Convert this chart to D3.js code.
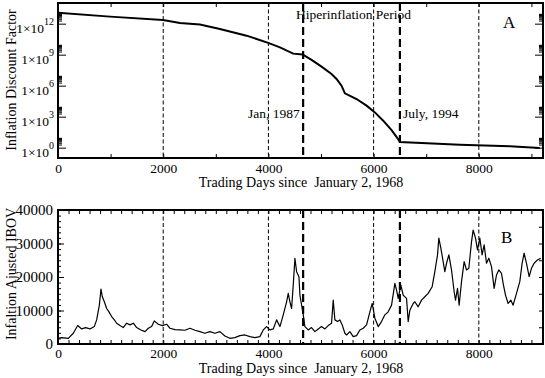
<!DOCTYPE html>
<html>
<head>
<meta charset="utf-8">
<script src="https://cdn.jsdelivr.net/npm/d3@7"></script>
<style>
  body { margin: 0; background: #fff; }
  svg { display: block; font-family: "Liberation Serif", "DejaVu Serif", serif; }
  .axis path { display: none; }
  .axis line { stroke: #000; stroke-width: 1; }
  .axis text { fill: #000; font-family: "Liberation Serif", serif; }
</style>
</head>
<body>
<svg id="chart" width="545" height="378"></svg>
<script>
// panel A: inflation discount factor (log scale)
const factorDays = [0, 988, 1995, 2318, 2698, 3078, 3586, 3996, 4219, 4471, 4649, 4820, 5010, 5200, 5295, 5390, 5454, 5676, 5866, 6024, 6182, 6341, 6470, 6499, 7639, 8589, 9159];
const factorValues = [1.17e13, 4.8e12, 2.3e12, 1.17e12, 8.1e11, 3.1e11, 6.9e10, 1.4e10, 5.1e9, 1.26e9, 1.05e9, 3.1e8, 6.9e7, 1.35e7, 4.5e6, 1.0e6, 1.8e5, 5.1e4, 1.17e4, 2.6e3, 410, 50, 6.3, 3.5, 1.95, 1.35, 0.93];

// panel B: inflation adjusted IBOV
const ibovDays = [0, 70, 196, 291, 374, 450, 526, 608, 690, 735, 786, 817, 843, 881, 925, 969, 1020, 1071, 1115, 1178, 1241, 1305, 1368, 1432, 1495, 1577, 1653, 1717, 1780, 1830, 1906, 1983, 2065, 2128, 2223, 2318, 2413, 2508, 2603, 2698, 2793, 2888, 2983, 3078, 3173, 3268, 3363, 3458, 3553, 3648, 3743, 3838, 3902, 3965, 4029, 4092, 4156, 4219, 4282, 4346, 4377, 4409, 4441, 4472, 4504, 4536, 4580, 4599, 4631, 4662, 4694, 4757, 4820, 4884, 4947, 5010, 5074, 5137, 5200, 5232, 5264, 5314, 5359, 5403, 5454, 5486, 5549, 5612, 5676, 5739, 5802, 5866, 5929, 5973, 6024, 6087, 6150, 6214, 6277, 6341, 6404, 6436, 6467, 6518, 6562, 6626, 6657, 6689, 6752, 6784, 6847, 6911, 6974, 7037, 7113, 7164, 7215, 7240, 7278, 7322, 7354, 7386, 7430, 7481, 7531, 7557, 7595, 7626, 7671, 7721, 7766, 7810, 7861, 7892, 7937, 7975, 8019, 8063, 8101, 8146, 8190, 8241, 8291, 8336, 8380, 8431, 8462, 8507, 8557, 8608, 8652, 8716, 8779, 8823, 8861, 8906, 8957, 9001, 9051, 9115, 9178];
const ibovValues = [1700, 1900, 1700, 3200, 5500, 4500, 4900, 4500, 5200, 7200, 11600, 16400, 14100, 12600, 10600, 9600, 8200, 7200, 6200, 5500, 4900, 6200, 5700, 6200, 4900, 4200, 3700, 4700, 5200, 6900, 5900, 5500, 5900, 4700, 4300, 4200, 4100, 4700, 4100, 3700, 3200, 3700, 3200, 3700, 2400, 1700, 1900, 2500, 2700, 2200, 1900, 2200, 4200, 5200, 4200, 4500, 7200, 5200, 8700, 12600, 15100, 12600, 10600, 17600, 25600, 21600, 20100, 14600, 11600, 8700, 5200, 4200, 4900, 3700, 4500, 5200, 4500, 5500, 6200, 13100, 7200, 6700, 7200, 5700, 3200, 2700, 3700, 2200, 2500, 4200, 4700, 5700, 9600, 12100, 7700, 5200, 6700, 8700, 9600, 11600, 18100, 16100, 13600, 17600, 14600, 13600, 6700, 10100, 12100, 12600, 11100, 13100, 14100, 15100, 17100, 21600, 26600, 31600, 28600, 24600, 21600, 24100, 26600, 22100, 15600, 13100, 16600, 11600, 18600, 24600, 22100, 22600, 30500, 34000, 31600, 28100, 31600, 26600, 29600, 24100, 25600, 23100, 16600, 20600, 22100, 21100, 18100, 14600, 12100, 13100, 11600, 15100, 18600, 24100, 27100, 24100, 20100, 22600, 24100, 25100, 25600];

// tick labels and reference lines
const xLabelTicks = [0, 2000, 4000, 6000, 8000];
const factorMajorTicks = [1, 1e3, 1e6, 1e9, 1e12];
const ibovMajorTicks = [0, 10000, 20000, 30000, 40000];
const yearLines = [2000, 4000, 6000, 8000];
const periodLines = [4660, 6500];

const svg = d3.select("#chart");
const fontSize = 13.5;

const panelA = {left: 58, right: 543, top: 3, bottom: 158};
const panelB = {left: 58, right: 543, top: 210, bottom: 344};

const x = d3.scaleLinear().domain([0, 9220]).range([panelA.left, panelA.right]);
const yA = d3.scaleLog().domain([0.1, 1e14]).range([panelA.bottom, panelA.top]);
const yB = d3.scaleLinear().domain([0, 40000]).range([panelB.bottom, panelB.top]);

/** draws vertical dashed reference lines inside a panel */
const drawRefLines = (p) => {
  svg.append("g").selectAll("line")
    .data(yearLines).enter().append("line")
    .attr("x1", d => x(d)).attr("x2", d => x(d))
    .attr("y1", p.top).attr("y2", p.bottom)
    .attr("stroke", "#000").attr("stroke-width", 1)
    .attr("stroke-dasharray", "4,2.5");
  svg.append("g").selectAll("line")
    .data(periodLines).enter().append("line")
    .attr("x1", d => x(d)).attr("x2", d => x(d))
    .attr("y1", p.top).attr("y2", p.bottom)
    .attr("stroke", "#000").attr("stroke-width", 2.2)
    .attr("stroke-dasharray", "8,4");
};

/** x axes (bottom with labels, top ticks only) */
const drawXAxes = (p, step, pad) => {
  const ticks = d3.range(0, 9201, step);
  svg.append("g").attr("class", "axis")
    .attr("transform", "translate(0," + p.bottom + ")")
    .call(d3.axisBottom(x).tickValues(ticks).tickSizeInner(-4).tickSizeOuter(0).tickPadding(pad)
      .tickFormat(d => xLabelTicks.includes(d) ? d : ""))
    .selectAll("text")
    .attr("font-size", fontSize)
    .filter(d => !xLabelTicks.includes(d)).remove();
  svg.append("g").attr("class", "axis")
    .attr("transform", "translate(0," + p.top + ")")
    .call(d3.axisTop(x).tickValues(ticks).tickSizeInner(-4).tickSizeOuter(0).tickFormat(""))
    .selectAll("text").remove();
};

// ---- panel A ----
drawRefLines(panelA);

const lineA = d3.line()
  .x((d, i) => x(factorDays[i]))
  .y(d => yA(d));
svg.append("path")
  .datum(factorValues)
  .attr("d", lineA)
  .attr("fill", "none")
  .attr("stroke", "#000")
  .attr("stroke-width", 2);

drawXAxes(panelA, 1000, 5);

const factorMinor = [];
factorMajorTicks.forEach(m => { for (let k = 2; k <= 9; k++) factorMinor.push(m * k); });

svg.append("g").attr("class", "axis")
  .attr("transform", "translate(" + panelA.left + ",0)")
  .call(d3.axisLeft(yA).tickValues(factorMajorTicks).tickSizeInner(-8).tickSizeOuter(0).tickPadding(4)
    .tickFormat(""))
  .selectAll("text")
  .attr("font-size", fontSize)
  .attr("dy", 9)
  .each(function(d) {
    const t = d3.select(this);
    t.append("tspan").text("1\u00d710");
    t.append("tspan").attr("dy", -8).attr("font-size", 10).text(Math.round(Math.log10(d)));
  });
svg.append("g").attr("class", "axis")
  .attr("transform", "translate(" + panelA.left + ",0)")
  .call(d3.axisLeft(yA).tickValues(factorMinor).tickSizeInner(-4).tickSizeOuter(0).tickFormat(""))
  .selectAll("text").remove();
svg.append("g").attr("class", "axis")
  .attr("transform", "translate(" + panelA.right + ",0)")
  .call(d3.axisRight(yA).tickValues(factorMajorTicks).tickSizeInner(-8).tickSizeOuter(0).tickFormat(""))
  .selectAll("text").remove();
svg.append("g").attr("class", "axis")
  .attr("transform", "translate(" + panelA.right + ",0)")
  .call(d3.axisRight(yA).tickValues(factorMinor).tickSizeInner(-4).tickSizeOuter(0).tickFormat(""))
  .selectAll("text").remove();

// ---- panel B ----
drawRefLines(panelB);

const lineB = d3.line()
  .x((d, i) => x(ibovDays[i]))
  .y(d => yB(d));
svg.append("path")
  .datum(ibovValues)
  .attr("d", lineB)
  .attr("fill", "none")
  .attr("stroke", "#000")
  .attr("stroke-width", 1.2)
  .attr("stroke-linejoin", "round");

drawXAxes(panelB, 200, 4.5);

svg.append("g").attr("class", "axis")
  .attr("transform", "translate(" + panelB.left + ",0)")
  .call(d3.axisLeft(yB).tickValues(ibovMajorTicks).tickSizeInner(-6).tickSizeOuter(0).tickPadding(5)
    .tickFormat(d3.format("d")))
  .selectAll("text").attr("font-size", 15);
svg.append("g").attr("class", "axis")
  .attr("transform", "translate(" + panelB.left + ",0)")
  .call(d3.axisLeft(yB).tickValues(d3.range(0, 40000, 10000 / 6)).tickSizeInner(-3).tickSizeOuter(0).tickFormat(""))
  .selectAll("text").remove();
svg.append("g").attr("class", "axis")
  .attr("transform", "translate(" + panelB.right + ",0)")
  .call(d3.axisRight(yB).tickValues(d3.range(0, 40001, 5000)).tickSizeInner(-4).tickSizeOuter(0).tickFormat(""))
  .selectAll("text").remove();

// frames
[panelA, panelB].forEach(p => {
  svg.append("rect")
    .attr("x", p.left).attr("y", p.top)
    .attr("width", p.right - p.left).attr("height", p.bottom - p.top)
    .attr("fill", "none").attr("stroke", "#000").attr("stroke-width", 2);
});

// annotations
const addText = (tx, ty, str, size, anchor) => svg.append("text")
  .attr("x", tx).attr("y", ty)
  .attr("font-size", size)
  .attr("text-anchor", anchor || "start")
  .style("white-space", "pre")
  .text(str);

addText(296, 18.5, "Hiperinflation Period", fontSize);
addText(248, 118, "Jan, 1987", fontSize);
addText(403, 118, "July, 1994", fontSize);
addText(503, 28, "A", 17);
addText(501, 243, "B", 17);
addText(301, 187, "Trading Days since  January 2, 1968", 14, "middle");
addText(301, 373, "Trading Days since  January 2, 1968", 14, "middle");

addText(0, 0, "Inflation Discount Factor", 14, "middle")
  .attr("transform", "translate(16,80) rotate(-90)");
addText(0, 0, "Infaltion Ajusted IBOV", 14, "middle")
  .attr("transform", "translate(16,274) rotate(-90)");
</script>
</body>
</html>
